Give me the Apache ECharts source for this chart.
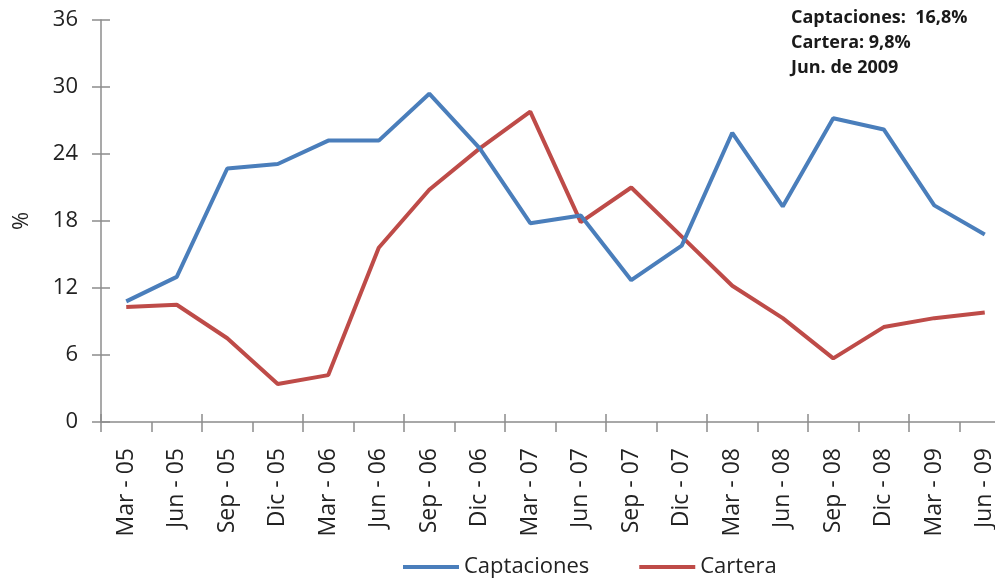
<!DOCTYPE html>
<html>
<head>
<meta charset="utf-8">
<script src="https://cdn.jsdelivr.net/npm/echarts@6/dist/echarts.min.js"></script>
<style>
  html, body { margin: 0; padding: 0; background: #ffffff; }
  #chart { width: 995px; height: 581px; }
</style>
</head>
<body>
<div id="chart"></div>
<script>
// Quarterly periods (Mar-05 .. Jun-09)
const categories = [
  'Mar - 05', 'Jun - 05', 'Sep - 05', 'Dic - 05',
  'Mar - 06', 'Jun - 06', 'Sep - 06', 'Dic - 06',
  'Mar - 07', 'Jun - 07', 'Sep - 07', 'Dic - 07',
  'Mar - 08', 'Jun - 08', 'Sep - 08', 'Dic - 08',
  'Mar - 09', 'Jun - 09'
];

// Annual growth, %
const captaciones = [
  10.8, 13.0, 22.7, 23.1, 25.2, 25.2, 29.4, 24.5, 17.8,
  18.5, 12.7, 15.8, 25.9, 19.3, 27.2, 26.2, 19.4, 16.8
];
const cartera = [
  10.3, 10.5, 7.5, 3.4, 4.2, 15.6, 20.8, 24.5, 27.8,
  17.9, 21.0, 16.6, 12.2, 9.3, 5.7, 8.5, 9.3, 9.8
];

// Value axis ticks
const yTicks = [0, 6, 12, 18, 24, 30, 36];

const BLUE = '#4a7ebb';
const RED = '#be4b48';
const AXIS = '#8c8c8c';
const FONT = '"Open Sans", Lato, sans-serif';

const fmt = v => v.toFixed(1).replace('.', ',');
const lastIdx = categories.length - 1;
const noteLines = [
  'Captaciones:  ' + fmt(captaciones[lastIdx]) + '%',
  'Cartera: ' + fmt(cartera[lastIdx]) + '%',
  'Jun. de 2009'
];

const yMin = yTicks[0];
const yMax = yTicks[yTicks.length - 1];
const yStep = yTicks[1] - yTicks[0];

const chart = echarts.init(document.getElementById('chart'));
chart.setOption({
  animation: false,
  backgroundColor: '#ffffff',
  textStyle: { fontFamily: FONT },
  // plot area runs slightly past the right edge of the canvas
  grid: {
    left: 101, top: 20, width: 909, height: 402,
    containLabel: false, outerBoundsMode: 'none'
  },
  legend: {
    left: 398,
    top: 551,
    icon: 'rect',
    itemWidth: 56,
    itemHeight: 4,
    itemGap: 50,
    textStyle: { fontSize: 22, color: '#222', fontFamily: FONT },
    data: ['Captaciones', 'Cartera']
  },
  xAxis: [{
    type: 'category',
    data: categories,
    boundaryGap: true,
    axisLine: { lineStyle: { color: AXIS, width: 1.5 } },
    axisTick: { show: true, alignWithLabel: false, length: 10, lineStyle: { color: AXIS, width: 1.5 } },
    axisLabel: {
      rotate: 90, margin: 26, fontSize: 23, color: '#222', fontFamily: FONT, interval: 0
    },
    splitLine: { show: false }
  }, {
    // inner half of the cross tick marks
    type: 'category',
    data: categories,
    position: 'bottom',
    boundaryGap: true,
    axisLine: { show: false },
    axisTick: { show: true, inside: true, length: 8, lineStyle: { color: AXIS, width: 1.5 } },
    axisLabel: { show: false },
    splitLine: { show: false }
  }],
  yAxis: [{
    type: 'value',
    min: yMin, max: yMax, interval: yStep,
    name: '%',
    nameLocation: 'middle',
    nameRotate: 90,
    nameGap: 68,
    nameTextStyle: { fontSize: 22, color: '#222', fontFamily: FONT },
    axisLine: { show: true, lineStyle: { color: AXIS, width: 1.5 } },
    axisTick: { show: true, length: 9, lineStyle: { color: AXIS, width: 1.5 } },
    axisLabel: { margin: 23, fontSize: 22, color: '#222', fontFamily: FONT },
    splitLine: { show: false }
  }, {
    type: 'value',
    position: 'left',
    min: yMin, max: yMax, interval: yStep,
    axisLine: { show: false },
    axisTick: { show: true, inside: true, length: 9, lineStyle: { color: AXIS, width: 1.5 } },
    axisLabel: { show: false },
    splitLine: { show: false }
  }],
  series: [{
    name: 'Captaciones',
    type: 'line',
    data: captaciones,
    symbol: 'none',
    color: BLUE,
    lineStyle: { width: 4, color: BLUE },
    z: 3
  }, {
    name: 'Cartera',
    type: 'line',
    data: cartera,
    symbol: 'none',
    color: RED,
    lineStyle: { width: 4, color: RED },
    z: 2
  }],
  graphic: noteLines.map((t, i) => ({
    type: 'text',
    left: 791,
    top: 9 + i * 25,
    style: {
      text: t,
      fontSize: 18,
      fontWeight: 'bold',
      fontFamily: FONT,
      fill: '#1a1a1a'
    }
  }))
});
</script>
</body>
</html>
